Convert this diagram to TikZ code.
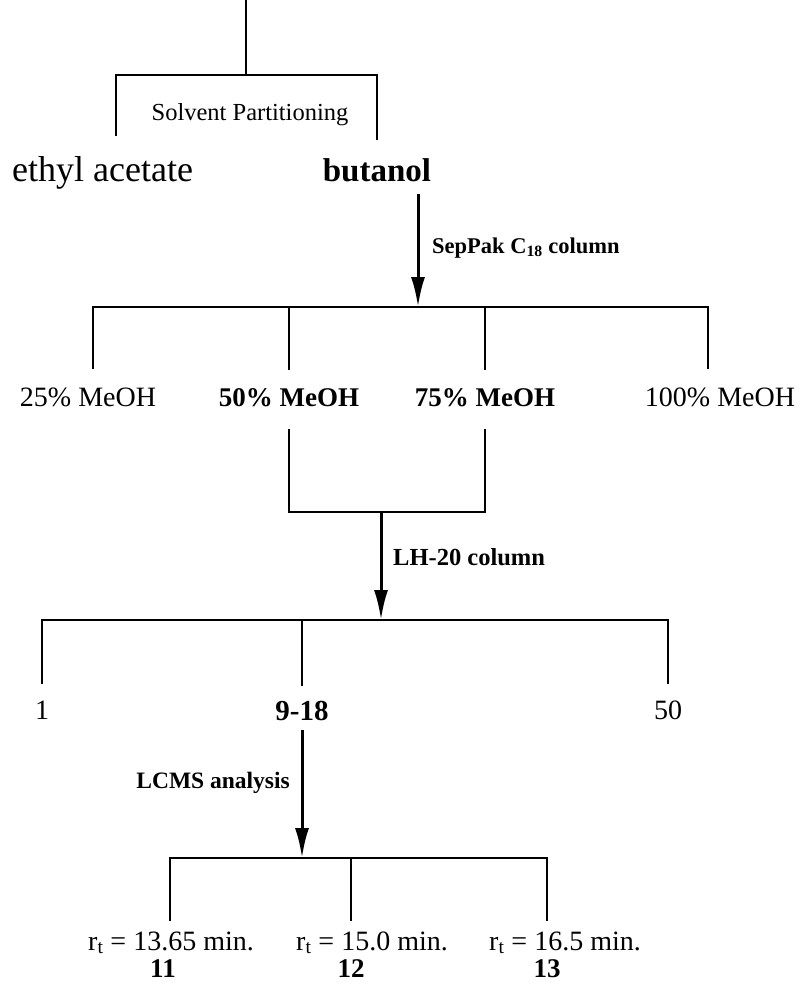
\documentclass[tikz,border=0pt]{standalone}
\usepackage{fontspec}
\setmainfont{Liberation Serif}
\usetikzlibrary{arrows.meta}

\begin{document}
\begin{tikzpicture}[
  x=1pt, y=-1pt,
  ln/.style={line width=1.8pt},
  arr/.style={line width=3pt, -{Latex[length=30pt,width=14pt]}},
  lbl/.style={inner sep=0pt, anchor=base, font=\fontsize{28}{30}\selectfont},
  blbl/.style={lbl, font=\fontsize{27}{30}\selectfont\bfseries},
  big/.style={inner sep=0pt, anchor=base, font=\fontsize{36}{38}\selectfont},
  note/.style={inner sep=0pt, anchor=base west, font=\fontsize{23.5}{26}\selectfont\bfseries}
]
\useasboundingbox (0,0) rectangle (802,989);
\coordinate (top) at (246,0);
\coordinate (j1) at (246,75);
\coordinate (j1l) at (116,75);
\node[inner sep=0pt, anchor=base, font=\fontsize{24.5}{26}\selectfont] (solv) at (250,120) {Solvent Partitioning};
\node[big, anchor=base west] (ea) at (12,181) {ethyl acetate};
\node[big, font=\fontsize{33}{36}\selectfont\bfseries] (bu) at (377,181) {butanol};
\draw[ln] (top) -- (j1);
\draw[ln, shorten <=20pt, shorten >=18pt] (ea.north -| j1l) |- (j1) -| (bu.north);

\coordinate (b2) at (418,307);
\node[note, font=\fontsize{22.5}{26}\selectfont\bfseries] (sep) at (432,253) {SepPak C\textsubscript{18} column};
\draw[arr, shorten <=12pt] (bu.south -| b2) -- (b2);
\node[lbl] (m25) at (88,406) {25\% MeOH};
\node[blbl] (m50) at (289,406) {50\% MeOH};
\node[blbl] (m75) at (485,406) {75\% MeOH};
\node[lbl] (m100) at (720,406) {100\% MeOH};
\draw[ln, shorten <=18pt, shorten >=18pt] (m25.north -| 93,0) |- (b2) -| (m100.north -| 708,0);
\draw[ln, shorten >=18pt] (b2 -| m50) -- (m50.north);
\draw[ln, shorten >=18pt] (b2 -| m75) -- (m75.north);

\coordinate (j2) at (381,512);
\coordinate (j3) at (381,620);
\draw[ln, shorten <=22pt, shorten >=22pt] (m50.south) |- (j2) -| (m75.south);
\draw[arr] (j2) -- (j3);
\node[note, font=\fontsize{24.5}{26}\selectfont\bfseries] (lh) at (393,565) {LH-20 column};
\node[lbl] (f1) at (42,719) {1};
\node[blbl, font=\fontsize{29}{32}\selectfont\bfseries] (f918) at (302,720) {9-18};
\node[lbl] (f50) at (668,719) {50};
\draw[ln, shorten <=16pt, shorten >=16pt] (f1.north) |- (j3) -| (f50.north);
\draw[ln, shorten >=15pt] (j3 -| f918) -- (f918.north);

\coordinate (j4) at (302,858);
\draw[arr, shorten <=10pt] (f918.south) -- (j4);
\node[note, anchor=base east] (lcms) at (290,788) {LCMS analysis};
\node[lbl] (rt1) at (171,950) {r\textsubscript{t} = 13.65 min.};
\node[lbl] (rt2) at (372,950) {r\textsubscript{t} = 15.0 min.};
\node[lbl] (rt3) at (565,950) {r\textsubscript{t} = 16.5 min.};
\node[blbl] (c11) at (163,977) {11};
\node[blbl] (c12) at (351,977) {12};
\node[blbl] (c13) at (547,977) {13};
\draw[ln, shorten <=10pt, shorten >=10pt] (rt1.north -| 170,0) |- (j4) -| (rt3.north -| c13);
\draw[ln, shorten >=10pt] (j4 -| c12) -- (rt2.north -| c12);
\end{tikzpicture}
\end{document}
